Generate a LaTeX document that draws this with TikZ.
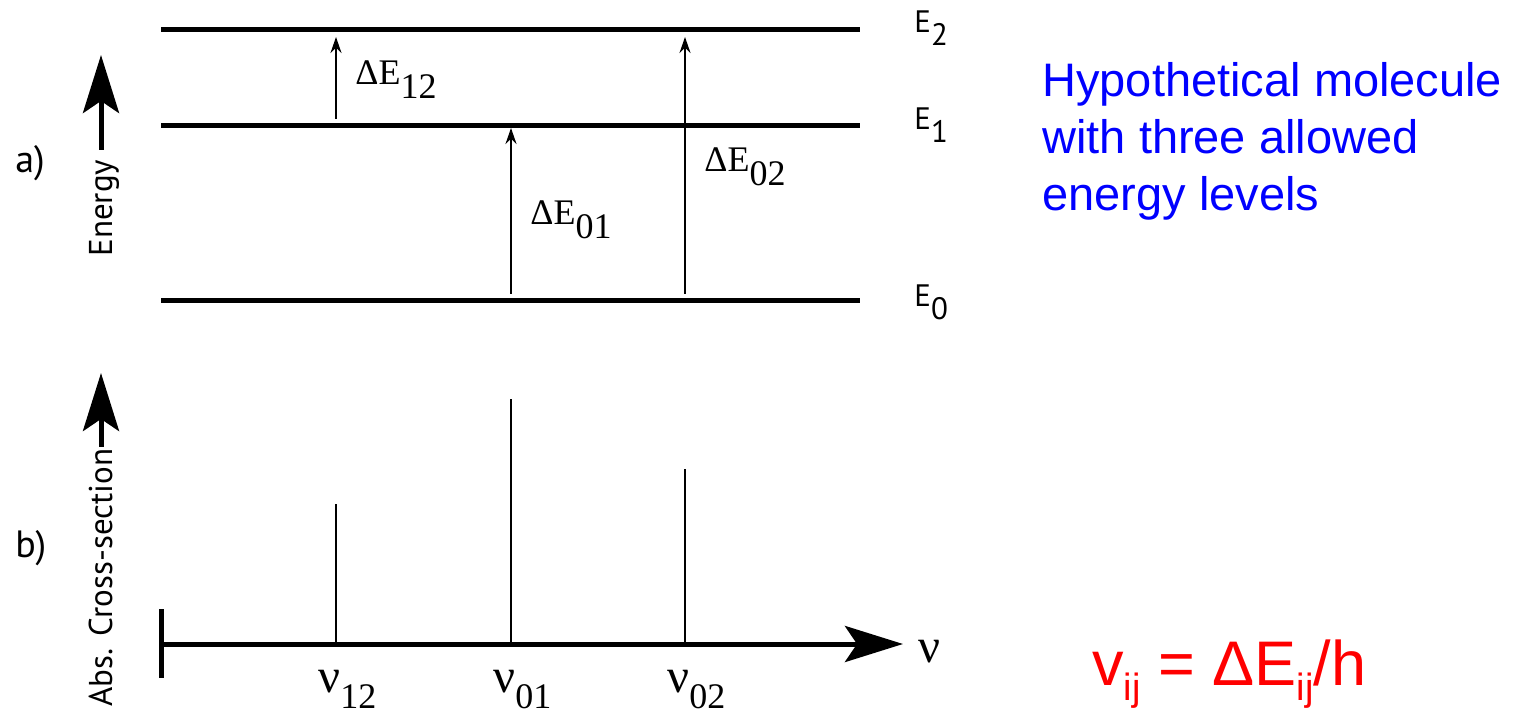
\documentclass[tikz,border=0pt]{standalone}
\usepackage{fontspec}
\setmainfont{Liberation Serif}
\newfontfamily\lblfont{PT Sans}
\newfontfamily\notefont{Liberation Sans}
\usetikzlibrary{arrows.meta}

\tikzset{
  level/.style={line width=2.5pt},
  trans/.style={line width=1pt, -{Stealth[length=8pt,width=5.5pt]}},
  peak/.style={line width=1pt},
  bigarrow/.style={line width=2.5pt, -{Stealth[length=29pt,width=18pt,inset=6pt]}},
  txt/.style={inner sep=0pt, anchor=base west},
  serif/.style={txt, font=\fontsize{18}{20}\selectfont},
  sans/.style={txt, font=\lblfont\fontsize{15.5}{18}\selectfont},
  axlabel/.style={inner sep=0pt, anchor=base west, rotate=90, font=\lblfont\fontsize{16.5}{19}\selectfont},
  part/.style={txt, font=\lblfont\fontsize{19}{22}\selectfont}
}
\newcommand{\bignu}{\scalebox{1.35}{ν}}

\begin{document}
\begin{tikzpicture}[x=0.5pt, y=-0.5pt]
    \useasboundingbox (0,0) rectangle (1513,715);

    % a) ENERGY LEVELS
    \foreach \name/\y/\ly/\i in {E0/301/307/0, E1/126/130/1, E2/30/33/2} {
        \coordinate (\name-l) at (161,\y);
        \coordinate (\name-r) at (860,\y);
        \draw[level] (\name-l) -- (\name-r);
        \node[sans] (\name-lab) at (914,\ly) {E\raisebox{-6.5pt}{\i}};
    }

    % transitions + peaks of the spectrum
    \coordinate (ax-l) at (161,644);
    \coordinate (ax-r) at (903,644);
    \foreach \x/\lo/\hi/\sh/\t/\lx/\ly/\h in {
        336/E1/E2/3.5pt/12/355/85/504,
        511/E0/E1/1pt/01/530/225/399,
        685/E0/E2/3.5pt/02/704/172/469
    } {
        \draw[trans, shorten <=3.5pt, shorten >=\sh] (\x,0 |- \lo-l) -- (\x,0 |- \hi-l);
        \node[serif] (dE\t) at (\lx,\ly) {ΔE\raisebox{-7pt}{\t}};
        \coordinate (pk\t) at (\x,\h);
        \draw[peak] (\x,0 |- ax-l) -- (pk\t);
        \node[serif] (nu\t) at (\x-18,692) {\bignu\raisebox{-8pt}{\t}};
    }

    % axes labels
    \node[part] (pa) at (15,173) {a)};
    \node[part] (pb) at (15,557) {b)};
    \node[axlabel] (energy) at (112,257) {Energy};
    \coordinate (e-tail) at (101,150);
    \coordinate (e-tip) at (101,55);
    \draw[bigarrow] (e-tail) -- (e-tip);
    \node[axlabel] (abs) at (112,707) {Abs. Cross-section};
    \coordinate (a-tail) at (101,447);
    \coordinate (a-tip) at (101,373);
    \draw[bigarrow] (a-tail) -- (a-tip);

    % b) SPECTRUM AXIS
    \draw[line width=2.5pt] (161,609) -- (161,678);
    \draw[bigarrow] (ax-l) -- (ax-r);
    \node[serif] (nu) at (918,662) {\bignu};

    % NOTES
    \node[inner sep=0pt, anchor=north west, align=left, text=blue,
          font=\notefont\fontsize{23.5}{28.5}\selectfont] (note) at (1042,62)
          {Hypothetical molecule\\with three allowed\\energy levels};
    \node[txt, text=red, font=\notefont\fontsize{31.5}{36}\selectfont] (rule) at (1092,685)
          {v\raisebox{-7.5pt}{\fontsize{19}{22}\selectfont ij} = ΔE\raisebox{-7.5pt}{\fontsize{19}{22}\selectfont ij}/h};
\end{tikzpicture}
\end{document}
